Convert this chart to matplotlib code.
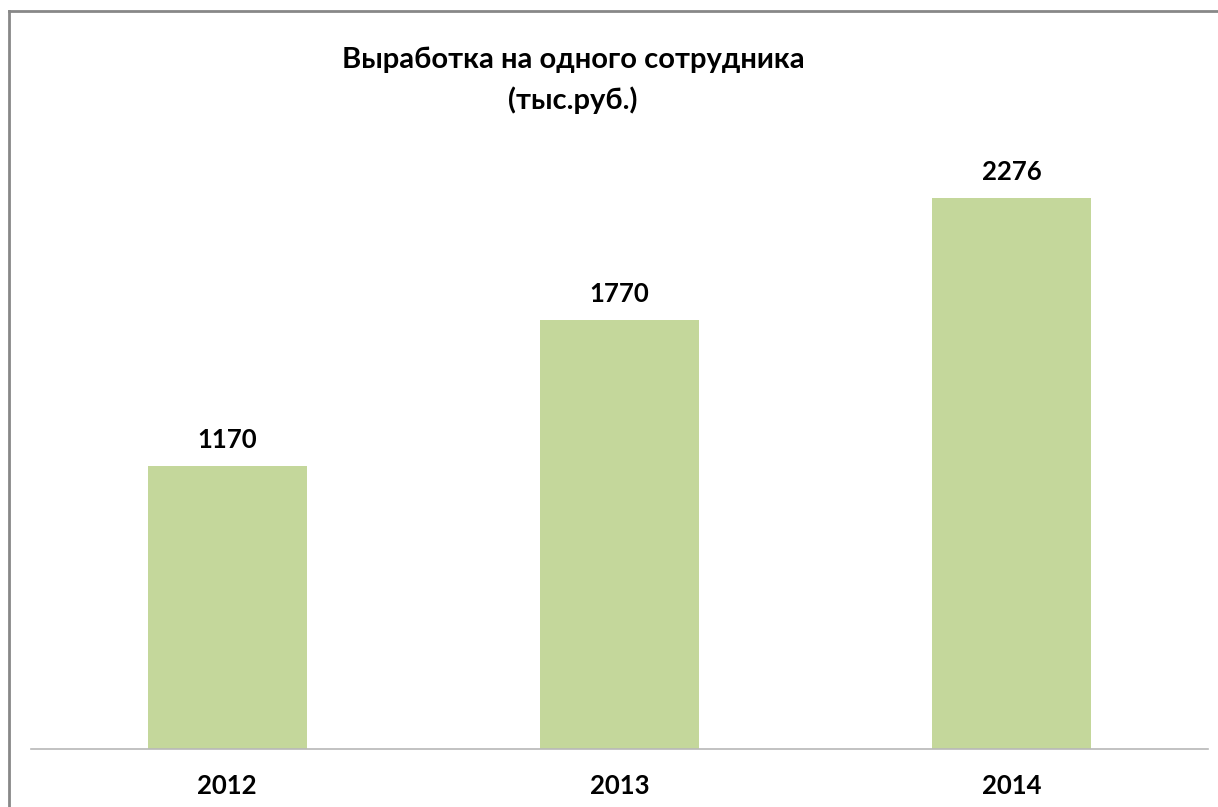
import matplotlib
matplotlib.use('Agg')
import matplotlib.pyplot as plt
from matplotlib.lines import Line2D

# Data
years = ['2012', '2013', '2014']
values = [1170, 1770, 2276]

title = 'Выработка на одного сотрудника\n(тыс.руб.)'
bar_color = '#c4d79b'

plt.rcParams['font.family'] = ['Lato', 'DejaVu Sans']

W, H = 1218, 807
fig = plt.figure(figsize=(W / 100, H / 100), dpi=100)

# Plot area in pixel terms: baseline at y=749, x from 31 to 1208
base_px = 749
scale = (749 - 198) / 2276  # px per unit
ymax = 2500
top_px = base_px - ymax * scale
ax = fig.add_axes([31 / W, (H - base_px) / H, (1208 - 31) / W, (base_px - top_px) / H])

x = range(len(years))
ax.bar(x, values, width=0.405, color=bar_color, zorder=2)
ax.set_xlim(-0.5, len(years) - 0.5)
ax.set_ylim(0, ymax)

for xi, v in zip(x, values):
    ax.annotate(str(v), (xi, v), xytext=(0, 26), textcoords='offset pixels',
                ha='center', va='center', fontsize=18.5, fontweight='bold')

ax.set_xticks(list(x))
ax.set_xticklabels(years, fontsize=18.5, fontweight='bold')
ax.tick_params(axis='x', length=0, pad=18)
ax.set_yticks([])
for side in ['top', 'right', 'left']:
    ax.spines[side].set_visible(False)
ax.spines['bottom'].set_color('#b8b8b8')
ax.spines['bottom'].set_linewidth(1.2)

fig.text(573 / W, 1 - 80 / H, title, ha='center', va='center',
         fontsize=21, fontweight='bold', linespacing=1.6)

# chart border (top and left edges visible in the reference)
fig.add_artist(Line2D([8.5 / W, 1], [1 - 10.5 / H, 1 - 10.5 / H], color='#888888', lw=2))
fig.add_artist(Line2D([8.5 / W, 8.5 / W], [0, 1 - 10.5 / H], color='#888888', lw=2))

fig.savefig('out.png', dpi=100)
